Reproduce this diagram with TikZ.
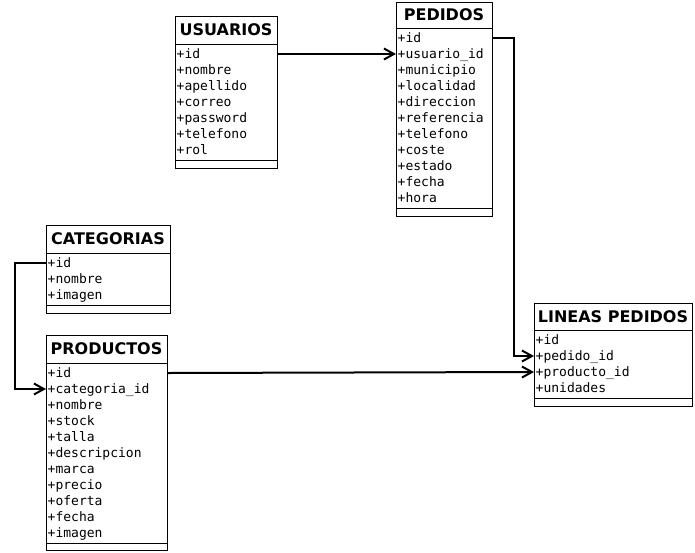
\documentclass[tikz,border=0pt]{standalone}
\usepackage{fontspec}
\setmainfont{DejaVu Sans}
\newfontfamily\titlefont{DejaVu Sans}
\newfontfamily\fieldfont{DejaVu Sans Mono}
\usetikzlibrary{arrows.meta}
\tikzset{
  boxline/.style={draw=black, line width=0.9pt},
  tablebody/.style={boxline, rectangle, inner sep=0pt, fill=white},
  titletext/.style={font=\titlefont\bfseries\fontsize{16}{19}\selectfont, inner sep=0pt},
  fieldtext/.style={font=\fieldfont\fontsize{13}{16}\selectfont, inner sep=0pt, text height=9pt, text depth=0pt, anchor=base west},
  conn/.style={line width=2pt, -{Straight Barb[length=10pt, width=11pt, line width=2pt]}},
}
% #1 name, #2 x1, #3 x2, #4 ytop, #5 ysep, #6 ysec, #7 ybot, #8 title, #9 rows
\newcommand\dbtable[9]{%
  \node[tablebody, minimum width=#3-#2, minimum height=#7-#4, anchor=north west] (#1) at (#2,#4) {};
  \node[titletext] (#1-t) at ({(#2+#3)/2},{(#4+#5)/2}) {#8};
  \draw[boxline] (#2,#5) -- (#3,#5);
  \draw[boxline] (#2,#6) -- (#3,#6);
  \foreach \f [count=\i] in {#9} {
    \node[fieldtext] (#1-\i) at (#2+1.5, #5+14.5+16*\i-16) {+\f};
  }
}
\begin{document}
\begin{tikzpicture}[x=1pt, y=-1pt]
\useasboundingbox (0,0) rectangle (695,552);
\fill[white] (0,0) rectangle (695,552);

\dbtable{usu}{175}{277}{16}{44}{160}{168}{USUARIOS}{id,nombre,apellido,correo,password,telefono,rol}
\dbtable{ped}{396}{492}{2}{28}{208}{216}{PEDIDOS}{id,usuario\_id,municipio,localidad,direccion,referencia,telefono,coste,estado,fecha,hora}
\dbtable{cat}{46}{170}{225}{253}{305}{313}{CATEGORIAS}{id,nombre,imagen}
\dbtable{prod}{46}{167}{335}{363}{543}{550}{PRODUCTOS}{id,categoria\_id,nombre,stock,talla,descripcion,marca,precio,oferta,fecha,imagen}
\dbtable{lin}{534}{692}{303}{330}{398}{406}{LINEAS PEDIDOS}{id,pedido\_id,producto\_id,unidades}

\draw[conn] (usu.east |- usu-1) -- (ped.west |- ped-2);
\draw[conn] (ped.east |- ped-1) -- ++(21,0) |- (lin.west |- lin-2);
\draw[conn] (cat.west |- cat-1) -- ++(-31,0) |- (prod.west |- prod-2);
\draw[conn] (prod.east |- prod-1) -- (lin.west |- lin-3);
\end{tikzpicture}
\end{document}
